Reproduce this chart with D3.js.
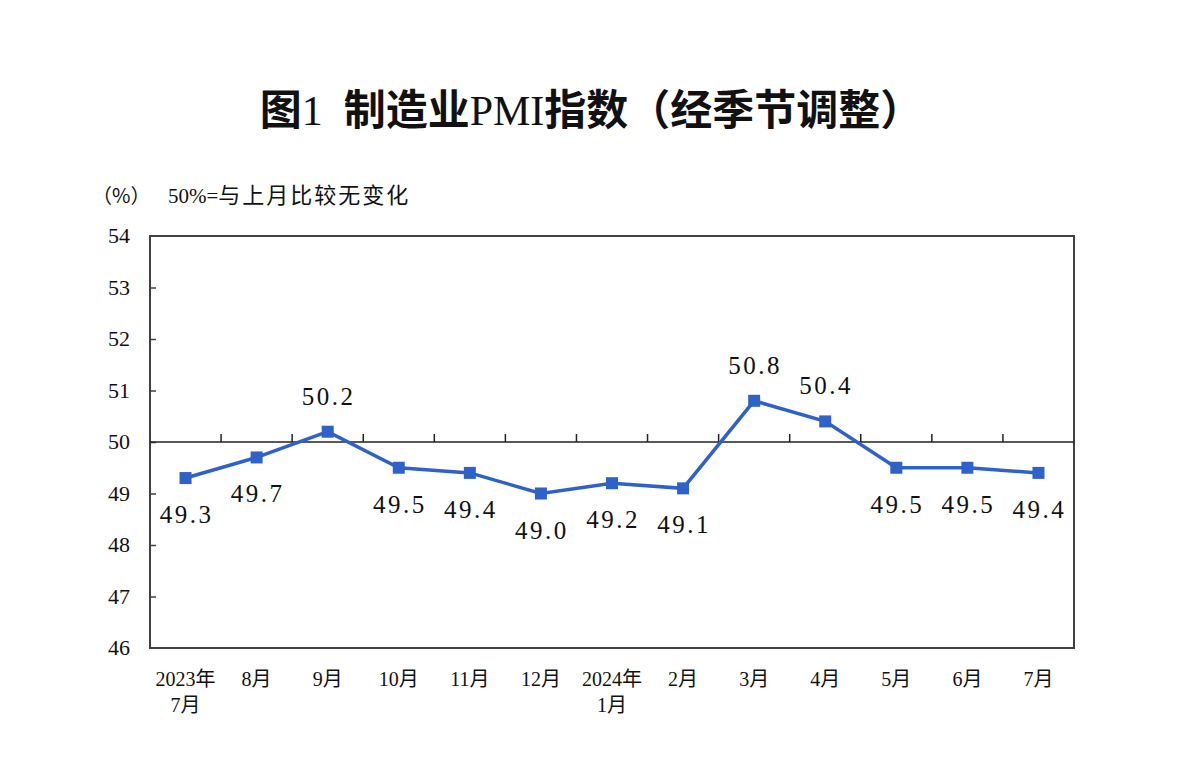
<!DOCTYPE html>
<html>
<head>
<meta charset="utf-8">
<title>制造业PMI指数</title>
<script src="https://d3js.org/d3.v7.min.js"></script>
<style>
	html, body { margin: 0; background: #fff; }
	svg { display: block; }
	text { font-family: "Liberation Serif", "Noto Sans CJK SC", serif; fill: #111; }
	.cjk { font-family: "Noto Sans CJK SC", sans-serif; }
</style>
</head>
<body>
<svg id="chart" width="1196" height="776"></svg>
<script>
// categories (line 1 / line 2 of x label)
const months = ["2023年\n7月", "8月", "9月", "10月", "11月", "12月", "2024年\n1月", "2月", "3月", "4月", "5月", "6月", "7月"];
const pmi = [49.3, 49.7, 50.2, 49.5, 49.4, 49.0, 49.2, 49.1, 50.8, 50.4, 49.5, 49.5, 49.4];
const yTicks = [46, 47, 48, 49, 50, 51, 52, 53, 54];
const baseline = 50;

const margin = {top: 236, right: 122, bottom: 128, left: 150};
const width = 1196 - margin.left - margin.right,
	height = 776 - margin.top - margin.bottom;

const svg = d3.select("#chart");

// title: CJK bold, latin parts regular serif
const title = svg.append("text")
	.attr("x", 591).attr("y", 125)
	.attr("text-anchor", "middle")
	.attr("xml:space", "preserve")
	.style("font-size", "42px");
[["图", true], ["1  ", false], ["制造业", true], ["PMI", false], ["指数（经季节调整）", true]].forEach(([s, bold]) => {
	title.append("tspan")
		.attr("class", bold ? "cjk" : null)
		.style("font-weight", bold ? "bold" : "normal")
		.style("white-space", "pre")
		.text(s);
});

// unit note
const note = svg.append("text").attr("x", 92).attr("y", 203).style("font-size", "21px");
note.append("tspan").attr("class", "cjk").style("font-size", "20px").text("（%）");
note.append("tspan").attr("x", 168).text("50%=");
note.append("tspan").attr("class", "cjk").style("font-size", "22px").style("letter-spacing", "2px").text("与上月比较无变化");

const g = svg.append("g").attr("transform", `translate(${margin.left},${margin.top})`);

const x = d3.scaleBand().domain(months).range([0, width]);
const y = d3.scaleLinear().domain([46, 54]).range([height, 0]);

// frame
g.append("rect")
	.attr("width", width).attr("height", height)
	.attr("fill", "none").attr("stroke", "#404040").attr("stroke-width", 2);

// y axis: labels left, ticks pointing inwards
const yAxis = g.append("g").call(d3.axisRight(y).tickValues(yTicks).tickSize(6).tickFormat(""));
yAxis.select(".domain").remove();
yAxis.selectAll("line").attr("stroke", "#404040").attr("stroke-width", 1.5);
yAxis.selectAll(".tick").filter(d => d === 46 || d === 54).remove();

g.selectAll(".ylab")
	.data(yTicks)
	.enter().append("text")
	.attr("class", "ylab")
	.attr("x", -20).attr("y", d => y(d) + 7)
	.attr("text-anchor", "end")
	.style("font-size", "22px")
	.text(d => d);

// 50 line with category ticks pointing up
const y50 = y(baseline);
g.append("line")
	.attr("x1", 0).attr("x2", width)
	.attr("y1", y50).attr("y2", y50)
	.attr("stroke", "#222").attr("stroke-width", 1.5);

g.selectAll(".ctick")
	.data(months.slice(1))
	.enter().append("line")
	.attr("class", "ctick")
	.attr("x1", d => x(d)).attr("x2", d => x(d))
	.attr("y1", y50).attr("y2", y50 - 8)
	.attr("stroke", "#222").attr("stroke-width", 1.5);

// x labels
const xl = g.selectAll(".xlab")
	.data(months)
	.enter().append("text")
	.attr("class", "xlab")
	.attr("text-anchor", "middle")
	.attr("y", height + 38)
	.style("font-size", "20px");
xl.each(function (d) {
	const parts = d.split("\n");
	const t = d3.select(this);
	parts.forEach((p, i) => {
		t.append("tspan")
			.attr("x", x(d) + x.bandwidth() / 2)
			.attr("dy", i === 0 ? 0 : 26)
			.text(p);
	});
});

// series
const cx = (d, i) => x(months[i]) + x.bandwidth() / 2;
const line = d3.line().x(cx).y(d => y(d));

g.append("path")
	.datum(pmi)
	.attr("d", line)
	.attr("fill", "none")
	.attr("stroke", "#2e62c9")
	.attr("stroke-width", 3.5);

g.selectAll(".pt")
	.data(pmi)
	.enter().append("rect")
	.attr("class", "pt")
	.attr("x", (d, i) => cx(d, i) - 6)
	.attr("y", d => y(d) - 6)
	.attr("width", 12).attr("height", 12)
	.attr("fill", "#2e62c9");

// value labels
g.selectAll(".vlab")
	.data(pmi)
	.enter().append("text")
	.attr("class", "vlab")
	.attr("x", (d, i) => cx(d, i) + 1)
	.attr("y", d => d > baseline ? y(d) - 27 : y(d) + 45)
	.attr("text-anchor", "middle")
	.style("font-size", "25px")
	.style("letter-spacing", "2.5px")
	.text(d => d.toFixed(1));
</script>
</body>
</html>
